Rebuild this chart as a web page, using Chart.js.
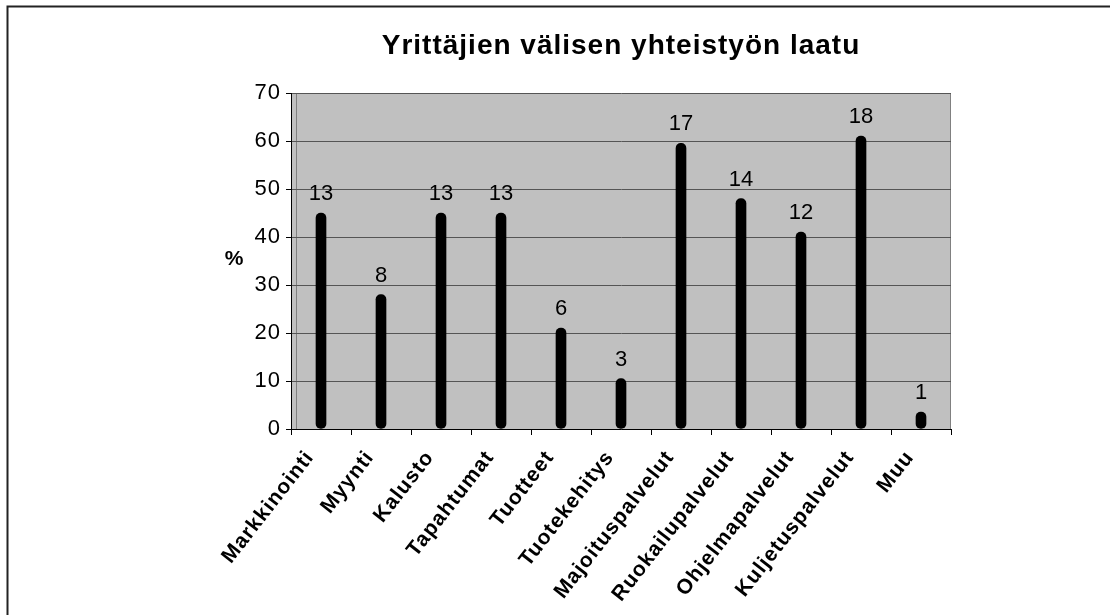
<!DOCTYPE html>
<html>
<head>
<meta charset="utf-8">
<title>Yrittäjien välisen yhteistyön laatu</title>
<script src="https://cdn.jsdelivr.net/npm/chart.js@4.4.1/dist/chart.umd.min.js"></script>
<style>
    body { margin: 0; background: #fff; }
    canvas { display: block; }
</style>
</head>
<body>
<canvas id="chart" width="1110" height="615"></canvas>
<script>
// Data
const categories = ['Markkinointi', 'Myynti', 'Kalusto', 'Tapahtumat', 'Tuotteet', 'Tuotekehitys',
    'Majoituspalvelut', 'Ruokailupalvelut', 'Ohjelmapalvelut', 'Kuljetuspalvelut', 'Muu'];
const percents = [45, 28, 45, 45, 21, 10.5, 59.5, 48, 41, 61, 3.5];
const counts = [13, 8, 13, 13, 6, 3, 17, 14, 12, 18, 1];
const yTicks = [0, 10, 20, 30, 40, 50, 60, 70];

const FONT = '"Liberation Sans", Arial, sans-serif';

// Background, frame, "%" label
const decorations = {
    id: 'decorations',
    beforeDraw(chart) {
        const { ctx, chartArea: a } = chart;
        ctx.save();
        ctx.fillStyle = '#c0c0c0';
        ctx.fillRect(a.left, a.top, a.right - a.left, a.bottom - a.top);
        ctx.strokeStyle = '#808080';
        ctx.lineWidth = 1;
        ctx.beginPath();
        ctx.moveTo(a.left + 5.5, a.top);
        ctx.lineTo(a.left + 5.5, a.bottom);
        ctx.moveTo(a.right - 0.5, a.top);
        ctx.lineTo(a.right - 0.5, a.bottom);
        ctx.stroke();
        // outer frame (top and left edges visible)
        ctx.strokeStyle = '#222';
        ctx.lineWidth = 2;
        ctx.beginPath();
        ctx.moveTo(7.5, 615);
        ctx.lineTo(7.5, 6.5);
        ctx.lineTo(1110, 6.5);
        ctx.stroke();
        ctx.fillStyle = '#000';
        ctx.font = 'bold 21px ' + FONT;
        ctx.textAlign = 'center';
        ctx.textBaseline = 'middle';
        ctx.fillText('%', 234, 259);
        ctx.restore();
        ctx.letterSpacing = '1px';
    },
    afterDatasetsDraw(chart) {
        const { ctx } = chart;
        const meta = chart.getDatasetMeta(0);
        ctx.save();
        ctx.letterSpacing = '0px';
        ctx.fillStyle = '#000';
        ctx.font = '22px ' + FONT;
        ctx.textAlign = 'center';
        ctx.textBaseline = 'middle';
        meta.data.forEach((bar, i) => {
            ctx.fillText(counts[i], bar.x, bar.y - 19);
        });
        ctx.restore();
    },
    afterDraw(chart) {
        chart.ctx.letterSpacing = '0px';
    }
};

new Chart(document.getElementById('chart'), {
    type: 'bar',
    data: {
        labels: categories,
        datasets: [{
            data: percents,
            backgroundColor: '#000',
            barThickness: 10,
            borderRadius: 5,
            borderSkipped: false
        }]
    },
    options: {
        responsive: false,
        animation: false,
        layout: { padding: { left: 0, right: 159, top: 0, bottom: 0 } },
        plugins: {
            legend: { display: false },
            tooltip: { enabled: false },
            title: {
                display: true,
                text: 'Yrittäjien välisen yhteistyön laatu',
                fullSize: false,
                color: '#000',
                font: { family: FONT, size: 28, weight: 'bold', lineHeight: 1.2 },
                padding: { top: 29, bottom: 30.4 }
            }
        },
        scales: {
            x: {
                offset: true,
                grid: {
                    offset: true,
                    drawOnChartArea: false,
                    tickLength: 6,
                    tickColor: '#000'
                },
                border: { color: '#000' },
                ticks: {
                    autoSkip: false,
                    minRotation: 52,
                    maxRotation: 52,
                    padding: 11,
                    labelOffset: -11,
                    color: '#000',
                    font: { family: FONT, size: 21, weight: 'bold' }
                },
                afterFit(scale) { scale.height = 186; }
            },
            y: {
                min: 0,
                max: 70,
                afterBuildTicks(scale) { scale.ticks = yTicks.map(v => ({ value: v })); },
                grid: {
                    color: '#555',
                    tickLength: 5,
                    tickColor: '#000'
                },
                border: { color: '#000' },
                ticks: {
                    padding: 5,
                    color: '#000',
                    font: { family: FONT, size: 22 }
                },
                afterFit(scale) { scale.width = 291; }
            }
        }
    },
    plugins: [decorations]
});
</script>
</body>
</html>
